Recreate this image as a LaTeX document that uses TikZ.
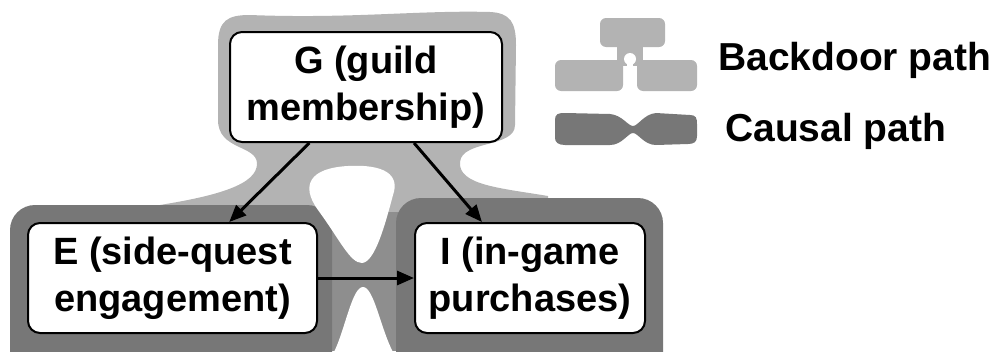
\documentclass[tikz,border=0pt]{standalone}
\usepackage{fontspec}
\setmainfont{Liberation Sans}
\usepackage{xcolor}
\usepackage{tikz}
\usetikzlibrary{arrows.meta, positioning}
\definecolor{backdoor}{HTML}{B3B3B3}
\definecolor{causal}{HTML}{777777}
\definecolor{neck}{HTML}{8E8E8E}

\begin{document}
\begin{tikzpicture}[
    x=1pt, y=-1pt,
    box/.style={rectangle, draw=black, line width=2pt, fill=white, minimum height=110pt, align=center, rounded corners=12pt, inner sep=0pt, font=\fontsize{38}{47}\selectfont\bfseries},
    legend/.style={anchor=base west, inner sep=0pt, font=\fontsize{39}{47}\selectfont\bfseries},
    arr/.style={-{Triangle[length=17pt, width=14pt]}, line width=3pt}
]
\useasboundingbox (0,0) rectangle (1003,351);

% Backdoor blob round G
\fill[backdoor] (218,45) .. controls (218,20) and (228,15) .. (250,15)
    .. controls (350,19) and (420,10) .. (490,12)
    .. controls (510,13) and (516,22) .. (516,45)
    -- (515,125) .. controls (515,148) and (462,140) .. (460,162)
    .. controls (458,185) and (500,188) .. (548,196)
    -- (548,260) -- (160,260) -- (160,205)
    .. controls (215,196) and (258,185) .. (257,163)
    .. controls (256,145) and (218,150) .. (218,120) -- cycle;

% Causal blob round E and I
\fill[neck] (322,212) rectangle (405,351);
\fill[causal, rounded corners=25pt] (10,205) rectangle (332,380);
\fill[causal, rounded corners=25pt] (396,198) rectangle (663,380);

% Holes
\fill[white] (348,166) .. controls (385,164) and (400,175) .. (393,195)
    .. controls (385,225) and (375,262) .. (362,263)
    .. controls (350,263) and (340,240) .. (318,210)
    .. controls (300,185) and (310,168) .. (348,166) -- cycle;
\fill[white] (334,352) .. controls (345,330) and (352,287) .. (363,287)
    .. controls (374,287) and (381,330) .. (393,352) -- cycle;

% Nodes
\node[box, minimum width=272pt] (guild) at (366,87) {G (guild\\membership)};
\node[box, minimum width=289pt] (engage) at (172.5,278) {E (side-quest\\engagement)};
\node[box, minimum width=230pt, right=96pt of engage] (purchase) {I (in-game\\purchases)};

% Arrows
\draw[arr] (guild) -- (engage);
\draw[arr] (guild) -- (purchase);
\draw[arr] (engage) -- (purchase);

% Legend
\fill[backdoor, rounded corners=6pt] (600,18) rectangle (665,47);
\fill[backdoor, rounded corners=6pt] (555,60) rectangle (623,91);
\fill[backdoor, rounded corners=6pt] (637,60) rectangle (697,91);
\fill[backdoor] (617,44) rectangle (643,66);
\fill[white] (630,59) circle (6pt);
\fill[white] (627,62) rectangle (633,92);
\fill[causal] (555,120) .. controls (555,114) and (558,113) .. (565,113)
    -- (610,114) .. controls (622,115) and (628,126) .. (633,126)
    .. controls (638,126) and (644,114) .. (656,113)
    -- (690,115) .. controls (696,115) and (697,118) .. (697,124)
    -- (697,136) .. controls (697,142) and (694,144) .. (688,144)
    -- (656,145) .. controls (644,145) and (638,133) .. (633,133)
    .. controls (628,133) and (622,145) .. (610,145)
    -- (565,145) .. controls (558,145) and (555,142) .. (555,138) -- cycle;
\node[legend] (bdlabel) at (718,70) {Backdoor path};
\node[legend] (calabel) at (725,141) {Causal path};

\end{tikzpicture}
\end{document}
